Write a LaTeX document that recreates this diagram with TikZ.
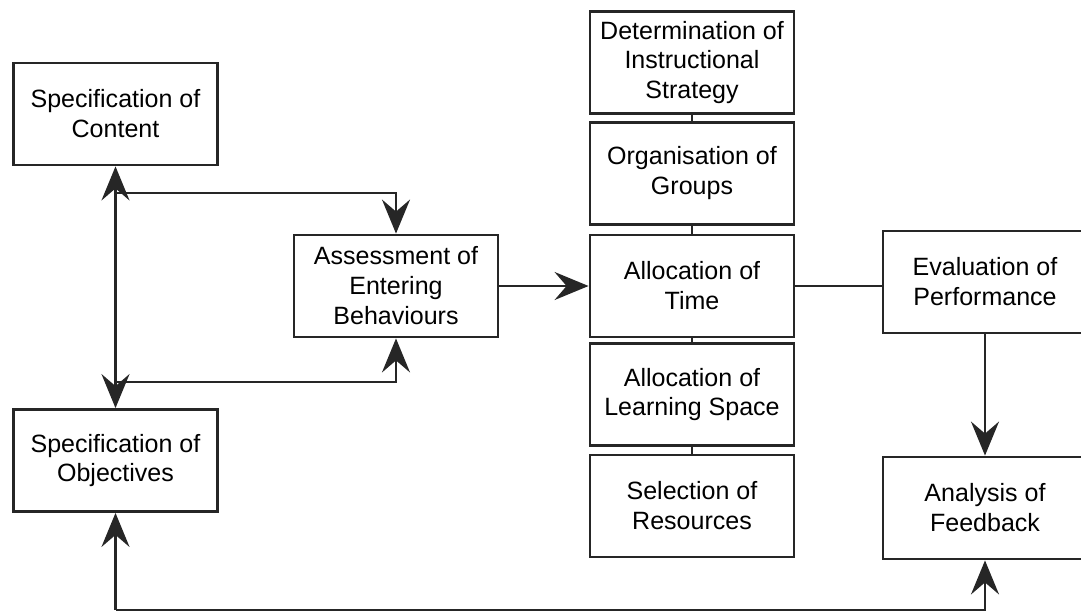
\documentclass[tikz,border=0pt]{standalone}
\usepackage{fontspec}
\setmainfont{Liberation Sans}
\usetikzlibrary{arrows.meta}

\begin{document}
\begin{tikzpicture}
[x=0.025cm,y=-0.025cm,%
  every node/.style={font=\fontsize{17.8}{21.3}\selectfont},%
  box/.style={draw=black!85,line width=2pt,minimum width=5.1cm,minimum height=2.55cm,align=center,inner sep=2pt},%
  link/.style={draw=black!85,line width=1.7pt},%
  >={Stealth[length=0.85cm,width=0.7cm,inset=0.3cm]}]
\clip (0,0) rectangle (1081,612);
% left column
\node[box] (content) at (115.5,114) {Specification of\\Content};
\node[box] (objectives) at (115.5,460.5) {Specification of\\Objectives};
\node[box] (assess) at (396,286) {Assessment of\\Entering\\Behaviours};
% middle column
\node[box] (strategy) at (692,62.5) {Determination of\\Instructional\\Strategy};
\node[box] (groups) at (692,173.5) {Organisation of\\Groups};
\node[box] (time) at (692,286) {Allocation of\\Time};
\node[box] (space) at (692,394.5) {Allocation of\\Learning Space};
\node[box] (resources) at (692,506) {Selection of\\Resources};
% right column
\node[box] (perform) at (985,282) {Evaluation of\\Performance};
\node[box] (feedback) at (985,508) {Analysis of\\Feedback};
\coordinate (upper) at (115.5,193);
\coordinate (lower) at (115.5,382);
\coordinate (bottom) at (115.5,610);
\draw[link,<->] (content) -- (objectives);
\draw[link,->] (upper) -| (assess);
\draw[link,->] (lower) -| (assess);
\draw[link,->] (assess) -- (time);
\draw[link] (strategy) -- (groups);
\draw[link] (groups) -- (time);
\draw[link] (time) -- (space);
\draw[link] (space) -- (resources);
\draw[link] (time.east) -- (time.east -| perform.west);
\draw[link,->] (perform) -- (feedback);
\draw[link,->] (bottom) -- (objectives);
\draw[link,->] (bottom) -| (feedback);
\end{tikzpicture}
\end{document}
